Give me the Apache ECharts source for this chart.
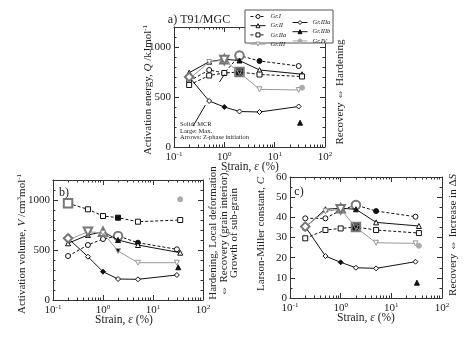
<!DOCTYPE html>
<html><head><meta charset="utf-8">
<script src="https://cdn.jsdelivr.net/npm/echarts@6/dist/echarts.min.js"></script>
<style>html,body{margin:0;padding:0;background:#fff}#c{width:474px;height:341px}</style>
</head><body><div id="c"></div>
<script>
// ---------------- data ----------------
const seriesNames = ['Gr.I','Gr.II','Gr.IIa','Gr.III','Gr.IIIa','Gr.IIIb','Gr.IV'];
// strain (%) of each group
const strainGrI    = [0.2,0.5,1,2,5,30];
const strainGrII   = [0.2,0.5,1,2,5,35];
const strainGrIIa  = [0.2,0.5,1,2,5,35];
const strainGrIII  = [0.2,0.5,1,2,5,30];
const strainGrIIIa = [0.2,0.5,1,2,5,30];
const strainGrIIIb = [32];
const strainGrIV   = [35];
// a) activation energy Q (kJ/mol)
const qGrI    = [660,770,740,915,860,810];
const qGrII   = [743,853,877,865,770,728];
const qGrIIa  = [620,715,740,750,725,705];
const qGrIII  = [680,850,870,745,577,570];
const qGrIIIa = [700,460,400,355,350,405];
const qGrIIIb = [243];
const qGrIV   = [593];
// b) activation volume V (cm3/mol)
const vGrI    = [440,550,610,640,573,507];
const vGrII   = [567,650,683,600,550,473];
const vGrIIa  = [967,907,840,823,783,800];
const vGrIII  = [600,683,670,490,373,373];
const vGrIIIa = [617,433,283,210,207,250];
const vGrIIIb = [327];
const vGrIV   = [1007];
// c) Larson-Miller constant C
const cGrI    = [39.5,39.5,43.5,46.1,43.1,40.3];
const cGrII   = [35,44,44.5,44,37.5,35.7];
const cGrIIa  = [29.6,33.7,34.5,35.2,33.7,32.2];
const cGrIII  = [35.5,43,44,35,27.4,27.1];
const cGrIIIa = [35.4,20.8,17.7,15.0,14.7,18.0];
const cGrIIIb = [7.6];
const cGrIV   = [25.9];
// index of the MCR point (solid) and the maximum (large) per group
const mcrIndex  = [4,3,3,3,2,-1,-1];
const maxIndexQ = [3,2,3,2,0,-1,-1];
const maxIndexV = [3,2,0,1,0,-1,-1];
const maxIndexC = [3,2,3,2,0,-1,-1];
// axis ticks
const decadeExponents = [-1,0,1,2];
const minorMultipliers = [2,3,4,5,6,7,8,9];
// Z-phase initiation arrows in panel a: [strain, Q] start -> end
const arrowStartsQ = [[0.24,210],[0.8,650]];
const arrowEndsQ   = [[0.42,420],[1.0,725]];

// ---------------- build ----------------
const FONT = 'Liberation Serif';
const strains = [strainGrI,strainGrII,strainGrIIa,strainGrIII,strainGrIIIa,strainGrIIIb,strainGrIV];
const panels = [
  {vals:[qGrI,qGrII,qGrIIa,qGrIII,qGrIIIa,qGrIIIb,qGrIV], maxIdx:maxIndexQ},
  {vals:[vGrI,vGrII,vGrIIa,vGrIII,vGrIIIa,vGrIIIb,vGrIV], maxIdx:maxIndexV},
  {vals:[cGrI,cGrII,cGrIIa,cGrIII,cGrIIIa,cGrIIIb,cGrIV], maxIdx:maxIndexC}
];
const styles = [
  {symbol:'circle', rot:0, dash:'dashed', color:'#111', fill:'#fff'},
  {symbol:'triangle', rot:0, dash:'solid', color:'#111', fill:'#fff'},
  {symbol:'rect', rot:0, dash:'dashed', color:'#111', fill:'#fff'},
  {symbol:'triangle', rot:180, dash:'solid', color:'#999', fill:'#fff'},
  {symbol:'diamond', rot:0, dash:'solid', color:'#111', fill:'#fff'},
  {symbol:'triangle', rot:0, dash:'solid', color:'#111', fill:'#111'},
  {symbol:'circle', rot:0, dash:'solid', color:'#aaa', fill:'#aaa'}
];
const grids = [
  {left:174, top:27, width:151, height:120},
  {left:53, top:180, width:150, height:120},
  {left:290, top:177, width:152, height:121}
];
const yRanges = [{max:1200, interval:500, minor:5},{max:1200, interval:500, minor:5},{max:60, interval:10, minor:2}];

const log10 = Math.log10;
const minorTickPos = [];
decadeExponents.slice(0,-1).forEach(e => minorMultipliers.forEach(m => minorTickPos.push(e + log10(m))));

const axisLineStyle = {color:'#333', width:1};
const dashOf = st => (st.dash === 'dashed' ? [3,2] : 'solid');
const xAxes = [], yAxes = [], series = [];
grids.forEach((g, p) => {
  const base = {type:'value', gridIndex:p, min:-1, max:2, interval:1, splitLine:{show:false}};
  xAxes.push(Object.assign({}, base, {position:'bottom', axisLine:{lineStyle:axisLineStyle, onZero:false},
    axisTick:{inside:true, length:5, lineStyle:axisLineStyle},
    axisLabel:{margin:4, fontFamily:FONT, fontSize:11, color:'#222',
      formatter: v => '10{s|' + (v<0 ? '-1' : v) + '}',
      rich:{s:{fontFamily:FONT, fontSize:7, padding:[0,0,6,0], color:'#222'}}}}));
  xAxes.push(Object.assign({}, base, {position:'bottom', axisLine:{show:false, onZero:false},
    axisTick:{inside:true, length:2.5, customValues:minorTickPos, lineStyle:axisLineStyle}, axisLabel:{show:false}}));
  xAxes.push(Object.assign({}, base, {position:'top', axisLine:{lineStyle:axisLineStyle, onZero:false},
    axisTick:{inside:true, length:5, lineStyle:axisLineStyle}, axisLabel:{show:false}}));
  xAxes.push(Object.assign({}, base, {position:'top', axisLine:{show:false, onZero:false},
    axisTick:{inside:true, length:2.5, customValues:minorTickPos, lineStyle:axisLineStyle}, axisLabel:{show:false}}));
  const r = yRanges[p];
  const ybase = {type:'value', gridIndex:p, min:0, max:r.max, interval:r.interval, splitLine:{show:false},
    axisLine:{show:true, onZero:false, lineStyle:axisLineStyle},
    axisTick:{show:true, inside:true, length:5, lineStyle:axisLineStyle},
    minorTick:{show:true, splitNumber:r.minor, length:2.5, lineStyle:axisLineStyle}};
  yAxes.push(Object.assign({}, ybase, {position:'left',
    axisLabel:{margin:3, fontFamily:FONT, fontSize:11, color:'#222',
      formatter: v => (v % r.interval === 0 ? String(v) : '')}}));
  yAxes.push(Object.assign({}, ybase, {position:'right', axisLabel:{show:false}}));

  seriesNames.forEach((name, k) => {
    const st = styles[k];
    const data = strains[k].map((s, i) => {
      const isMax = panels[p].maxIdx[k] === i;
      const isMcr = mcrIndex[k] === i;
      const it = {value:[log10(s), panels[p].vals[k][i]]};
      const is = {};
      if (isMcr) is.color = '#111';
      if (isMax) { it.symbolSize = 8.5; is.borderColor = '#777'; is.borderWidth = 2; }
      it.itemStyle = is;
      return it;
    });
    const ser = {type:'line', name, xAxisIndex:p*4, yAxisIndex:p*2, data,
      symbol:st.symbol, symbolRotate:st.rot, symbolSize:5, showAllSymbol:true,
      lineStyle:{color:st.color, width:1, type:dashOf(st)},
      itemStyle:{color:st.fill, borderColor:st.color, borderWidth:1},
      z: 2 + k, silent:true};
    if (p === 0 && k === 4) {
      ser.markLine = {silent:true, symbol:['none','arrow'], symbolSize:[0,6],
        lineStyle:{color:'#111', width:1, type:'solid'}, label:{show:false},
        data: arrowStartsQ.map((a, i) => [{coord:[log10(a[0]), a[1]]}, {coord:[log10(arrowEndsQ[i][0]), arrowEndsQ[i][1]]}])};
    }
    series.push(ser);
  });
});

const rot = Math.PI/2;
const txt = (x, y, text, size, extra) => ({type:'text', x, y, rotation: extra && extra.rot ? rot : 0, z:100,
  style:Object.assign({text, fontFamily:FONT, fontSize:size, fill:'#222', align:'center', verticalAlign:'middle',
    rich:{i:{fontFamily:FONT, fontSize:size, fontStyle:'italic', fill:'#222'},
          s:{fontFamily:FONT, fontSize:size-4, padding:[0,0,6,0], fill:'#222'}}}, extra && extra.style)});

const graphic = [
  txt(199, 20, 'a) T91/MGC', 12),
  txt(64, 193, 'b)', 12),
  txt(299, 192, 'c)', 12),
  txt(250, 167, 'Strain, {i|ε} (%)', 11.5),
  txt(124, 320, 'Strain, {i|ε} (%)', 11.5),
  txt(366, 318, 'Strain, {i|ε} (%)', 11.5),
  txt(148, 90, 'Activation energy, {i|Q} /kJmol{s|-1}', 11, {rot:true}),
  txt(22, 244, 'Activation volume, {i|V} /cm{s|3}mol{s|-1}', 11, {rot:true}),
  txt(261, 234, 'Larson-Miller constant, {i|C}', 11, {rot:true}),
  txt(340, 92, 'Recovery ⇔ Hardening', 11, {rot:true}),
  txt(224, 233, 'Hardening, Local deformation\n⇔ Recovery (grain interior),\nGrowth of sub-grain', 11, {rot:true, style:{lineHeight:10.5}}),
  txt(453, 235, 'Recovery ⇔ Increase in Δ{i|S}', 11, {rot:true}),
  txt(180, 131, 'Solid: MCR\nLarge: Max.\nArrows: Z-phase initiation', 6.5, {style:{align:'left', lineHeight:6.5}}),
  {type:'rect', shape:{x:245, y:10, width:88, height:33}, z:50, style:{fill:'#fff', stroke:'#555', lineWidth:1}}
];

const legendItems = seriesNames.map((n, k) => ({name:n,
  itemStyle:{color:styles[k].fill, borderColor:styles[k].color, borderWidth:1},
  lineStyle:{color:styles[k].color, width:1, type:dashOf(styles[k])}}));
const legendText = {fontFamily:FONT, fontSize:6.5, fontStyle:'italic', color:'#222'};
const chart = echarts.init(document.getElementById('c'), null, {renderer:'canvas'});
chart.setOption({
  animation:false,
  grid:grids,
  xAxis:xAxes,
  yAxis:yAxes,
  series,
  graphic,
  legend:[
    {data:legendItems.slice(0,4), orient:'vertical', left:250, top:13, itemWidth:15, itemHeight:5, itemGap:2.2, itemStyle:{borderWidth:1}, padding:0, textStyle:legendText, z:60, selectedMode:false},
    {data:legendItems.slice(4), orient:'vertical', left:292, top:19, itemWidth:15, itemHeight:5, itemGap:2.2, itemStyle:{borderWidth:1}, padding:0, textStyle:legendText, z:60, selectedMode:false}
  ]
});
</script></body></html>
